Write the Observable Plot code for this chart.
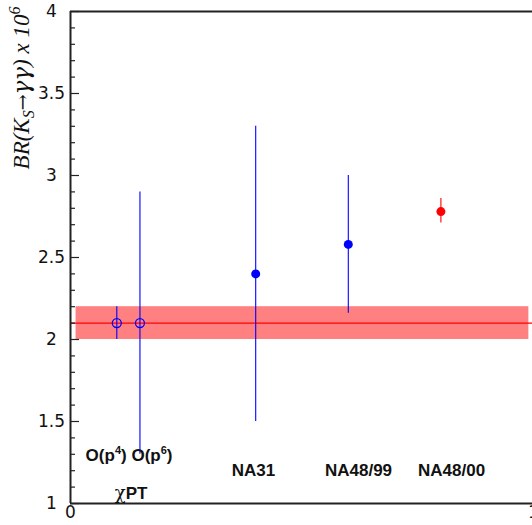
<!DOCTYPE html>
<html><head><meta charset="utf-8">
<script src="https://cdn.jsdelivr.net/npm/d3@7"></script>
<script src="https://cdn.jsdelivr.net/npm/@observablehq/plot@0.6"></script>
<style>html,body{margin:0;padding:0;overflow:hidden;background:#fff} svg{max-width:none !important;}</style>
</head><body><div id="chart"></div>
<script>
// ---- data ----
const labels   = ["O(p4)", "O(p6)", "NA31", "NA48/99", "NA48/00"];
const xPos     = [0.10, 0.15, 0.40, 0.60, 0.80];
const values   = [2.10, 2.10, 2.40, 2.58, 2.78];
const errDown  = [0.10, 0.80, 0.90, 0.42, 0.07];
const errUp    = [0.10, 0.80, 0.90, 0.42, 0.08];
const isOpen   = [true, true, false, false, false];
const colors   = ["blue", "blue", "blue", "blue", "red"];
const avgValue = 2.10;
const avgErr   = 0.10;
const bandRange = [0.012, 0.99];
const yMajor = [1, 1.5, 2, 2.5, 3, 3.5, 4];
const yTickLabels = ["1", "1.5", "2", "2.5", "3", "3.5", "4"];
const xMajor = [0, 1];
const xTickLabels = ["0", "1"];
const annotations = [
  {text: "O(p4)",   x: 0.077, y: 1.29},
  {text: "O(p6)",   x: 0.176, y: 1.29},
  {text: "χPT",     x: 0.131, y: 1.06},
  {text: "NA31",    x: 0.395, y: 1.20},
  {text: "NA48/99", x: 0.622, y: 1.20},
  {text: "NA48/00", x: 0.823, y: 1.20}
];
const yTitle = "BR(KS→γγ) x 106";

// ---- tables ----
const points = labels.map((l, i) => ({
  label: l, x: xPos[i], y: values[i],
  lo: values[i] - errDown[i], hi: values[i] + errUp[i],
  open: isOpen[i], color: colors[i]
}));
const yMinor = d3.ticks(1, 4, 30).filter(v => !yMajor.includes(v));

const W = 545, H = 525, ML = 70, MR = 12, MT = 11, MB = 22;
const plotW = W - ML - MR;

const chart = Plot.plot({
  width: W, height: H,
  marginLeft: ML, marginRight: MR, marginTop: MT, marginBottom: MB,
  x: {domain: [0, 1], axis: null},
  y: {domain: [1, 4], axis: null},
  style: {background: "white", maxWidth: "none"},
  marks: [
    Plot.rectY([avgValue], {x1: bandRange[0], x2: bandRange[1], y1: d => d - avgErr, y2: d => d + avgErr, fill: "#ff8080"}),
    Plot.ruleY([avgValue], {x1: 0, x2: 1, stroke: "red", strokeWidth: 1.1}),
    Plot.ruleX(points, {x: "x", y1: "lo", y2: "hi", stroke: "color", strokeWidth: 1.1}),
    Plot.dot(points.filter(d => !d.open), {x: "x", y: "y", r: 4.5, fill: "color", stroke: null}),
    Plot.dot(points.filter(d => d.open), {x: "x", y: "y", r: 4.5, fill: "none", stroke: "color", strokeWidth: 1.3}),
    Plot.ruleX([0], {stroke: "#222", strokeWidth: 2}),
    Plot.ruleY([1, 4], {stroke: "#222", strokeWidth: 2}),
    Plot.tickY(yMajor, {y: d => d, insetRight: plotW - 9, stroke: "#222", strokeWidth: 1.2}),
    Plot.tickY(yMinor, {y: d => d, insetRight: plotW - 5, stroke: "#222", strokeWidth: 1.2}),
    Plot.text(yMajor, {y: d => d, text: (d, i) => yTickLabels[i], frameAnchor: "left", dx: -19, textAnchor: "middle",
      fontSize: 17, fontFamily: "DejaVu Sans", fill: "#111"}),
    Plot.text(xMajor, {x: d => d, text: (d, i) => xTickLabels[i], frameAnchor: "bottom", dy: 14, textAnchor: "middle",
      fontSize: 17, fontFamily: "DejaVu Sans", fill: "#111"}),
    Plot.text(annotations, {x: "x", y: "y", text: "text", fontSize: 17, fontWeight: "bold",
      fontFamily: "Liberation Sans", fill: "#111", className: "annot"}),
    Plot.text([yTitle], {text: d => d, frameAnchor: "top-left", rotate: -90, textAnchor: "end",
      dx: -58, dy: -5, fontSize: 23, fontStyle: "italic", fontFamily: "Liberation Serif", fill: "#111", className: "ytitle"})
  ]
});
document.getElementById("chart").appendChild(chart);

function richify(el, parts) {
  while (el.firstChild) el.removeChild(el.firstChild);
  const ns = "http://www.w3.org/2000/svg";
  for (const p of parts) {
    const t = document.createElementNS(ns, "tspan");
    t.textContent = p.t;
    if (p.size) t.setAttribute("font-size", p.size);
    if (p.dy) t.setAttribute("dy", p.dy);
    if (p.family) t.setAttribute("font-family", p.family);
    if (p.weight) t.setAttribute("font-weight", p.weight);
    if (p.style) t.setAttribute("font-style", p.style);
    el.appendChild(t);
  }
}
d3.select(chart).selectAll("g.annot text").each(function() {
  const s = this.textContent;
  const m = s.match(/^O\(p(\d)\)$/);
  if (m) richify(this, [{t: "O(p"}, {t: m[1], size: "11px", dy: "-7"}, {t: ")", dy: "7"}]);
  else if (s.startsWith("χ")) richify(this, [{t: "χ", family: "DejaVu Serif", weight: "normal", style: "normal", size: "18px"}, {t: s.slice(1)}]);
});
d3.select(chart).selectAll("g.ytitle text").each(function() {
  richify(this, [{t: "BR(K"}, {t: "S", size: "16px", dy: "5"},
    {t: "→", dy: "-5", family: "DejaVu Serif", style: "normal", size: "19px"},
    {t: "γγ", family: "DejaVu Serif"}, {t: ") x 10"}, {t: "6", size: "16px", dy: "-9"}]);
});
</script>
</body></html>
